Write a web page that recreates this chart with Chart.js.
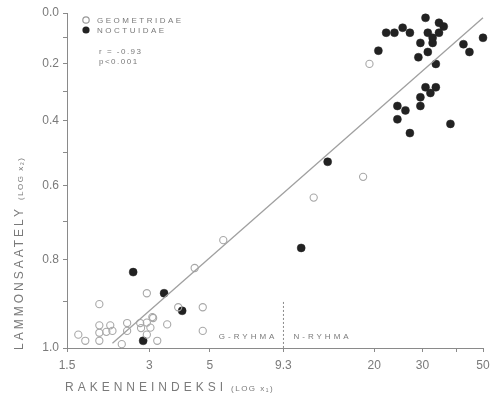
<!DOCTYPE html>
<html>
<head>
<meta charset="utf-8">
<script src="https://cdn.jsdelivr.net/npm/chart.js@4.4.1/dist/chart.umd.min.js"></script>
<style>
  html,body{margin:0;padding:0;background:#fff;}
  canvas{display:block;}
</style>
</head>
<body>
<canvas id="c" width="499" height="398"></canvas>
<script>
// ====== Data ======
// x: rakenneindeksi (log x1), y: lammonsaately (log x2), 0.0 top .. 1.0 bottom
const geoX = [19.2, 18.2, 12.0, 5.6, 4.40, 2.94, 1.97, 3.83, 4.71, 3.08, 1.65, 1.75, 1.97, 1.97, 1.97,
              2.16, 2.20, 2.09, 2.49, 2.49, 2.78, 2.94, 3.10, 3.03, 2.80, 2.94, 3.21, 3.49, 2.38, 4.71];
const geoY = [0.20, 0.575, 0.635, 0.75, 0.82, 0.88, 0.905, 0.912, 0.912, 0.934, 0.972, 0.985, 0.952, 0.968, 0.985,
              0.952, 0.964, 0.966, 0.947, 0.964, 0.947, 0.946, 0.936, 0.957, 0.958, 0.972, 0.985, 0.95, 0.992, 0.964];

const noctX = [30.8, 34.5, 35.9, 22.1, 23.7, 25.4, 27.0, 31.4, 34.5, 32.7, 29.5, 32.7, 20.7, 31.4, 29.0,
               42.4, 44.6, 50, 33.6, 30.8, 33.6, 32.1, 29.5, 29.5, 24.3, 26.0, 24.3, 27.0, 38.0,
               13.5, 10.8, 2.62, 3.40, 3.96, 2.85];
const noctY = [0.02, 0.04, 0.055, 0.08, 0.08, 0.06, 0.08, 0.08, 0.08, 0.10, 0.12, 0.12, 0.15, 0.155, 0.175,
               0.125, 0.155, 0.10, 0.20, 0.285, 0.285, 0.305, 0.32, 0.35, 0.35, 0.365, 0.395, 0.44, 0.41,
               0.53, 0.77, 0.83, 0.88, 0.92, 0.985];

// regression line end points
const fitX = [2.2, 50];
const fitY = [0.99, 0.02];

const xTicks = [1.5, 3, 5, 9.3, 20, 30, 40, 50];
const xLabeled = [1.5, 3, 5, 9.3, 20, 30, 50];
const yTicks = [0, 0.1, 0.2, 0.3, 0.4, 0.5, 0.6, 0.7, 0.8, 0.9, 1.0];
const groupSplit = 9.3;

// y axis is logarithmic in (2 - value)
const toAxis = v => 2 - v;
function pts(xs, ys){ return xs.map((x,i)=>({x:x, y:toAxis(ys[i])})); }

const GREY = '#8a8a8a';
const TXT = '#7a7a7a';
const FONT = '"Liberation Sans", Arial, sans-serif';

// texts, legend and group divider
const extras = {
  id: 'extras',
  afterDraw(chart){
    const ctx = chart.ctx, xs = chart.scales.x, ys = chart.scales.y;
    ctx.save();
    ctx.fillStyle = TXT;

    // dotted divider at 9.3
    const dx = xs.getPixelForValue(groupSplit);
    ctx.strokeStyle = GREY; ctx.lineWidth = 1; ctx.setLineDash([2,2]);
    ctx.beginPath();
    ctx.moveTo(dx, ys.getPixelForValue(toAxis(0.9)));
    ctx.lineTo(dx, ys.getPixelForValue(toAxis(1.0)));
    ctx.stroke();
    ctx.setLineDash([]);

    ctx.font = '8px ' + FONT; ctx.letterSpacing = '3px'; ctx.textBaseline = 'middle';
    ctx.textAlign = 'right'; ctx.fillText('G-RYHMA', dx - 6, 337);
    ctx.textAlign = 'left'; ctx.fillText('N-RYHMA', dx + 10, 337);

    // legend
    ctx.lineWidth = 1.2;
    ctx.strokeStyle = '#999';
    ctx.beginPath(); ctx.arc(86, 20, 3.2, 0, Math.PI*2); ctx.stroke();
    ctx.fillStyle = '#222';
    ctx.beginPath(); ctx.arc(86, 30, 3.6, 0, Math.PI*2); ctx.fill();
    ctx.fillStyle = TXT;
    ctx.font = '8px ' + FONT; ctx.letterSpacing = '2.5px'; ctx.textAlign = 'left';
    ctx.fillText('GEOMETRIDAE', 97, 21);
    ctx.fillText('NOCTUIDAE', 97, 31);
    ctx.letterSpacing = '1.5px';
    ctx.fillText('r = -0.93', 99, 52);
    ctx.fillText('p<0.001', 99, 62);

    // x title
    ctx.textBaseline = 'alphabetic';
    ctx.font = '12px ' + FONT; ctx.letterSpacing = '4px';
    ctx.fillText('RAKENNEINDEKSI', 65, 391);
    let w = ctx.measureText('RAKENNEINDEKSI').width;
    ctx.font = '8px ' + FONT; ctx.letterSpacing = '1.5px';
    ctx.fillText('(LOG x\u2081)', 65 + w + 4, 391);

    // y title
    ctx.translate(23, 350);
    ctx.rotate(-Math.PI/2);
    ctx.font = '12px ' + FONT; ctx.letterSpacing = '3px';
    ctx.fillText('LAMMONSAATELY', 0, 0);
    w = ctx.measureText('LAMMONSAATELY').width;
    ctx.font = '8px ' + FONT; ctx.letterSpacing = '1.5px';
    ctx.fillText('(LOG x\u2082)', w + 6, 0);

    ctx.restore();
  }
};

const axisGrid = { display:true, drawOnChartArea:false, drawTicks:true, tickLength:4, color:GREY, lineWidth:1 };

new Chart(document.getElementById('c'), {
  type: 'scatter',
  data: {
    datasets: [
      { label:'fit', type:'line', data: pts(fitX, fitY), showLine:true, borderColor:'#a0a0a0',
        borderWidth:1.3, pointRadius:0, fill:false, clip:false },
      { label:'GEOMETRIDAE', data: pts(geoX, geoY), pointStyle:'circle', pointRadius:3.6,
        backgroundColor:'rgba(255,255,255,0)', borderColor:'#a8a8a8', borderWidth:1.1, clip:false },
      { label:'NOCTUIDAE', data: pts(noctX, noctY), pointStyle:'circle', pointRadius:4,
        backgroundColor:'#222', borderColor:'#222', borderWidth:0.5, clip:false }
    ]
  },
  options: {
    responsive:false, animation:false, devicePixelRatio:1,
    layout:{ padding:{ left:0, right:16, top:13, bottom:0 } },
    plugins:{ legend:{display:false}, tooltip:{enabled:false} },
    scales:{
      x:{
        type:'logarithmic', min:1.5, max:50,
        afterBuildTicks: s => { s.ticks = xTicks.map(v=>({value:v})); },
        afterFit: s => { s.height = 50; },
        grid: axisGrid,
        border:{ display:true, color:GREY, width:1 },
        ticks:{ color:TXT, font:{family:FONT, size:12}, padding:6, maxRotation:0, autoSkip:false,
          callback: v => xLabeled.includes(v) ? String(v) : '' }
      },
      y:{
        type:'logarithmic', min:1, max:2,
        afterBuildTicks: s => { s.ticks = yTicks.map(v=>({value:toAxis(v)})); },
        afterFit: s => { s.width = 67; },
        grid: axisGrid,
        border:{ display:true, color:GREY, width:1 },
        ticks:{ color:TXT, font:{family:FONT, size:12}, padding:4, autoSkip:false,
          callback: val => {
            const v = 2 - val;
            return Math.round(v*10) % 2 === 0 ? v.toFixed(1) : '';
          } }
      }
    }
  },
  plugins:[extras]
});
</script>
</body>
</html>
